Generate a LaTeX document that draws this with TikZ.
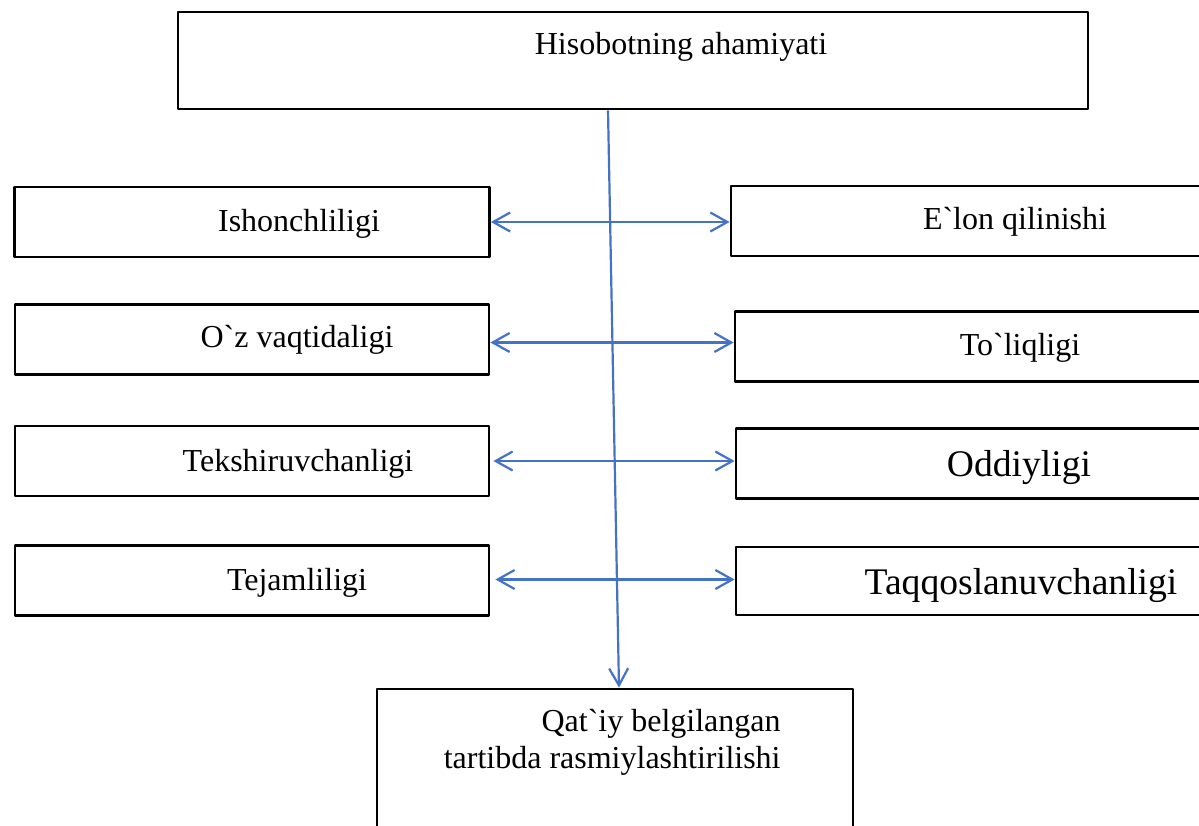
\documentclass[tikz,border=0pt]{standalone}
\usepackage{fontspec}
\setmainfont{Liberation Serif}
\usetikzlibrary{arrows.meta,calc}

\definecolor{linkblue}{RGB}{68,114,196}
\def\u{0.5pt}
\tikzset{
  box/.style={draw, line width=1.4pt, inner sep=0pt, minimum height=70*\u},
  lbl/.style={font=\fontsize{16}{18.5}\selectfont, inner sep=0pt},
  biglbl/.style={font=\fontsize{18.8}{22}\selectfont, inner sep=0pt},
  barb/.tip={Straight Barb[length=8.5pt,width=9.5pt]},
  link/.style={draw=linkblue, line width=1.1pt},
}

\begin{document}
\begin{tikzpicture}[x=\u, y=-\u, line join=round]

  \clip (0,0) rectangle (1199,825);

  % main box on top
  \node[box, minimum width=910*\u, minimum height=97*\u] (top) at (633,60.5) {};
  \node[lbl] (toptxt) at (681,47) {Hisobotning ahamiyati};

  % left column
  \node[box, minimum width=475*\u] (l1) at (252,222) {};
  \node[box, minimum width=474*\u] (l2) at (252,339.5) {};
  \node[box, minimum width=474*\u] (l3) at (252,461) {};
  \node[box, minimum width=474*\u] (l4) at (252,580.5) {};
  \node[lbl] (l1txt) at (299,224) {Ishonchliligi};
  \node[lbl] (l2txt) at (297,340) {O\textasciigrave z vaqtidaligi};
  \node[lbl] (l3txt) at (298,464) {Tekshiruvchanligi};
  \node[lbl] (l4txt) at (297,583) {Tejamliligi};

  % right column
  \node[box, minimum width=474*\u] (r1) at (968,221) {};
  \node[box, minimum width=470*\u] (r2) at (970,346.5) {};
  \node[box, minimum width=469*\u] (r3) at (970.5,463.5) {};
  \node[box, minimum width=469*\u, minimum height=68*\u] (r4) at (970.5,581) {};
  \node[lbl] (r1txt) at (1015,222) {E\textasciigrave lon qilinishi};
  \node[lbl] (r2txt) at (1020,348) {To\textasciigrave liqligi};
  \node[biglbl] (r3txt) at (1019,468) {Oddiyligi};
  \node[biglbl] (r4txt) at (1021,586) {Taqqoslanuvchanligi};

  % bottom box
  \node[box, minimum width=476*\u, minimum height=151*\u] (bot) at (615,764.5) {};
  \node[lbl, align=right, anchor=east] (bottxt) at (781,742)
    {Qat\textasciigrave iy belgilangan\\tartibda rasmiylashtirilishi};

  % connectors
  \coordinate (vtop) at ($(top.south)+(-25,0)$);
  \coordinate (vbot) at ($(bot.north)+(4,0)$);
  \draw[link, -barb] (vtop) -- (vbot);

  \draw[link, barb-barb] (l1.east) -- (l1.east -| r1.west);
  \draw[link, barb-barb] ($(l2.east)+(0,3)$) -- ($(l2.east -| r2.west)+(0,3)$);
  \draw[link, barb-barb] ($(l3.east)+(3,0)$) -- (l3.east -| r3.west);
  \draw[link, barb-barb] ($(l4.east)+(5,-1)$) -- ($(l4.east -| r4.west)+(0,-1)$);

\end{tikzpicture}
\end{document}
